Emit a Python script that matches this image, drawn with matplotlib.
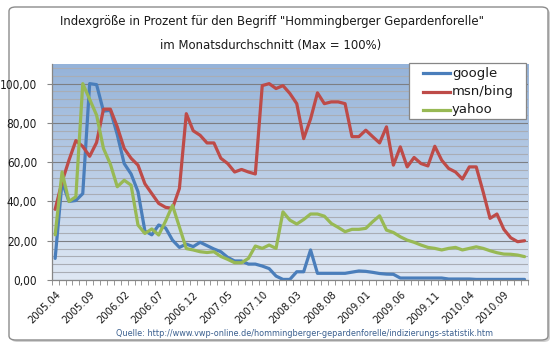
import matplotlib
matplotlib.use("Agg")
import matplotlib.pyplot as plt
import numpy as np
from matplotlib import font_manager as fm
from matplotlib.patches import FancyBboxPatch, Rectangle
from matplotlib.lines import Line2D
from matplotlib.ticker import FixedLocator, FuncFormatter

# ---------------- data ----------------
months = [f"{y}.{m:02d}" for y in range(2005, 2011) for m in range(1, 13)][3:]  # 2005.04 .. 2010.12

google = [11, 50, 40, 40.5, 44, 100, 99.5, 86, 86.4, 74,
          59.3, 54, 45, 25, 23, 28, 26.5, 20.3, 16.6, 18.3,
          17, 19.2, 17.5, 15.8, 14.4, 11.5, 9.7, 9.7, 8.1, 8.1,
          7.1, 5.8, 2, 0.3, 0.3, 4.2, 4.2, 15.3, 3.4, 3.4,
          3.4, 3.4, 3.4, 4.0, 4.6, 4.4, 3.9, 3.3, 3.0, 2.9,
          1.0, 1.0, 1.0, 1.0, 1.0, 1.0, 1.0, 0.5, 0.5, 0.5,
          0.5, 0.3, 0.3, 0.3, 0.3, 0.3, 0.3, 0.3, 0.3]

msn_bing = [36, 50, 61, 71, 68, 63, 70, 87, 87, 78,
            67, 62, 58.5, 49, 44, 39, 37, 36.5, 46.6, 84.7,
            76, 73.7, 69.8, 69.8, 62, 59.3, 55, 56.3, 55, 54,
            99, 100, 97.5, 99, 95, 89.8, 72, 82, 95.3, 89.8,
            90.7, 90.7, 89.8, 73, 73, 76.3, 73, 69.8, 78, 58.5,
            67.8, 57.6, 62.4, 59.3, 58.1, 68.1, 61, 56.8, 55, 51.4,
            57.6, 57.6, 44.9, 31.4, 33.6, 25.8, 21.5, 19.5, 20]

yahoo = [23, 55, 40, 42.4, 100, 92, 84, 67, 59, 47.5,
         50.8, 48.3, 28, 23.7, 26, 22.9, 30, 38, 27, 16,
         15.3, 14.4, 14, 14.4, 12, 10.5, 8.8, 8.8, 11, 17.3,
         16.1, 17.8, 16.1, 34.7, 30.5, 28.5, 30.8, 33.6, 33.6, 32.5,
         28.8, 26.8, 24.6, 25.8, 25.8, 26.3, 29.7, 32.7, 25.4, 24.2,
         22, 20.3, 19.2, 17.8, 16.6, 16.1, 15.3, 16.1, 16.6, 15.3,
         16.1, 16.9, 16.1, 14.9, 13.9, 13.2, 13.1, 12.7, 11.9]

tick_labels = ["2005.04", "2005.09", "2006.02", "2006.07", "2006.12", "2007.05",
               "2007.10", "2008.03", "2008.08", "2009.01", "2009.06", "2009.11",
               "2010.04", "2010.09"]

series_names = ["google", "msn/bing", "yahoo"]
series_colors = ["#4A7EBB", "#BE4B48", "#98B954"]

title_lines = ['Indexgröße in Prozent für den Begriff "Hommingberger Gepardenforelle"',
               'im Monatsdurchschnitt (Max = 100%)']
source_text = "Quelle: http://www.vwp-online.de/hommingberger-gepardenforelle/indizierungs-statistik.htm"

# ---------------- fonts ----------------
names = {f.name for f in fm.fontManager.ttflist}
if "Liberation Sans Narrow" in names:
    NARROW = dict(family=["Liberation Sans Narrow", "DejaVu Sans"])
else:
    NARROW = dict(family=["DejaVu Sans"], stretch="condensed")

W, H = 556, 352
fig = plt.figure(figsize=(W / 100, H / 100), dpi=100)
fig.patch.set_facecolor("white")


def fx(px):
    return px / W


def fy(py):
    return 1 - py / H


# outer chart border with soft shadow
shadow = FancyBboxPatch((fx(11), fy(342)), (548 - 9) / W, (340 - 7) / H,
                        boxstyle="round,pad=0,rounding_size=0.012",
                        transform=fig.transFigure, fc="#d0d0d0", ec="none", zorder=-3)
border = FancyBboxPatch((fx(9), fy(340)), (548 - 9) / W, (340 - 7) / H,
                        boxstyle="round,pad=0,rounding_size=0.012",
                        transform=fig.transFigure, fc="white", ec="#8c8c8c", lw=1.0, zorder=-2)
fig.patches.extend([shadow, border])

# plot area
L, R, T, B = 51.7, 528, 64, 280
ax = fig.add_axes([fx(L), fy(B), (R - L) / W, (B - T) / H])
ax.set_facecolor("none")
n = len(months)
x = np.arange(n)
ax.set_xlim(-0.5, n - 0.5)
ax.set_ylim(0, 110)

# gradient background
top = np.array([149, 179, 217]) / 255
bot = np.array([223, 232, 244]) / 255
t = np.linspace(0, 1, 256)[:, None, None]
grad = top * (1 - t) + bot * t
ax.imshow(grad, extent=[-0.5, n - 0.5, 0, 110], aspect="auto", origin="upper", zorder=0)

# grid
ax.yaxis.set_major_locator(FixedLocator([0, 20, 40, 60, 80, 100]))
ax.yaxis.set_minor_locator(FixedLocator([v for v in range(4, 110, 4) if v % 20 != 0]))
ax.grid(axis="y", which="major", color="#7d7f84", lw=0.8, zorder=1)
ax.grid(axis="y", which="minor", color="#a9adb5", lw=0.8, zorder=1)
ax.set_axisbelow(True)

for vals, name, col, z in zip([google, msn_bing, yahoo], series_names, series_colors, [3, 4, 5]):
    ax.plot(x, vals, color=col, lw=2.3, label=name, zorder=z,
            solid_joinstyle="round", solid_capstyle="round")

# axes styling
for s in ["top", "right"]:
    ax.spines[s].set_visible(False)
for s in ["left", "bottom"]:
    ax.spines[s].set_color("#868686")
    ax.spines[s].set_linewidth(0.9)
    ax.spines[s].set_zorder(6)

ax.yaxis.set_major_formatter(FuncFormatter(lambda v, p: f"{v:.2f}".replace(".", ",")))
ax.tick_params(axis="y", which="major", length=3.5, color="#868686", pad=7,
               labelcolor="#1a1a1a")
ax.tick_params(axis="y", which="minor", length=0)
for lab in ax.get_yticklabels():
    lab.set_fontproperties(fm.FontProperties(size=8.5, **NARROW))

ax.xaxis.set_major_locator(FixedLocator([months.index(s) for s in tick_labels]))
ax.set_xticklabels(tick_labels)
ax.xaxis.set_minor_locator(FixedLocator(np.arange(-0.5, n, 1.0)))
ax.tick_params(axis="x", which="major", length=0, pad=7)
ax.tick_params(axis="x", which="minor", length=3.5, color="#868686", direction="out")
for lab in ax.get_xticklabels():
    lab.set_fontproperties(fm.FontProperties(size=8, **NARROW))
    lab.set_rotation(45)
    lab.set_ha("right")
    lab.set_va("top")
    lab.set_rotation_mode("anchor")
    lab.set_color("#1a1a1a")

# legend (drawn as a box with sample lines, Excel style)
fig.patches.append(Rectangle((fx(409), fy(119)), (525.5 - 409) / W, (119 - 63) / H,
                             transform=fig.transFigure, fc="white", ec="#868686",
                             lw=0.9, zorder=10))
for k, (name, col) in enumerate(zip(series_names, series_colors)):
    yy = 73 + 18.5 * k
    fig.lines.append(Line2D([fx(423), fx(450)], [fy(yy), fy(yy)], transform=fig.transFigure,
                            color=col, lw=2.3, zorder=11))
    fig.text(fx(452), fy(yy), name, ha="left", va="center", fontsize=9.5,
             family="DejaVu Sans", color="#1a1a1a", zorder=12)

# title and source
fig.text(fx(272), fy(21), title_lines[0], ha="center", va="center",
         fontsize=9.4, color="#1a1a1a", **NARROW)
fig.text(fx(271), fy(45), title_lines[1], ha="center", va="center",
         fontsize=9.4, color="#1a1a1a", **NARROW)
fig.text(fx(305), fy(333), source_text, ha="center", va="center",
         fontsize=6.5, color="#3a5f8f", **NARROW)

fig.savefig("out.png", dpi=100)
